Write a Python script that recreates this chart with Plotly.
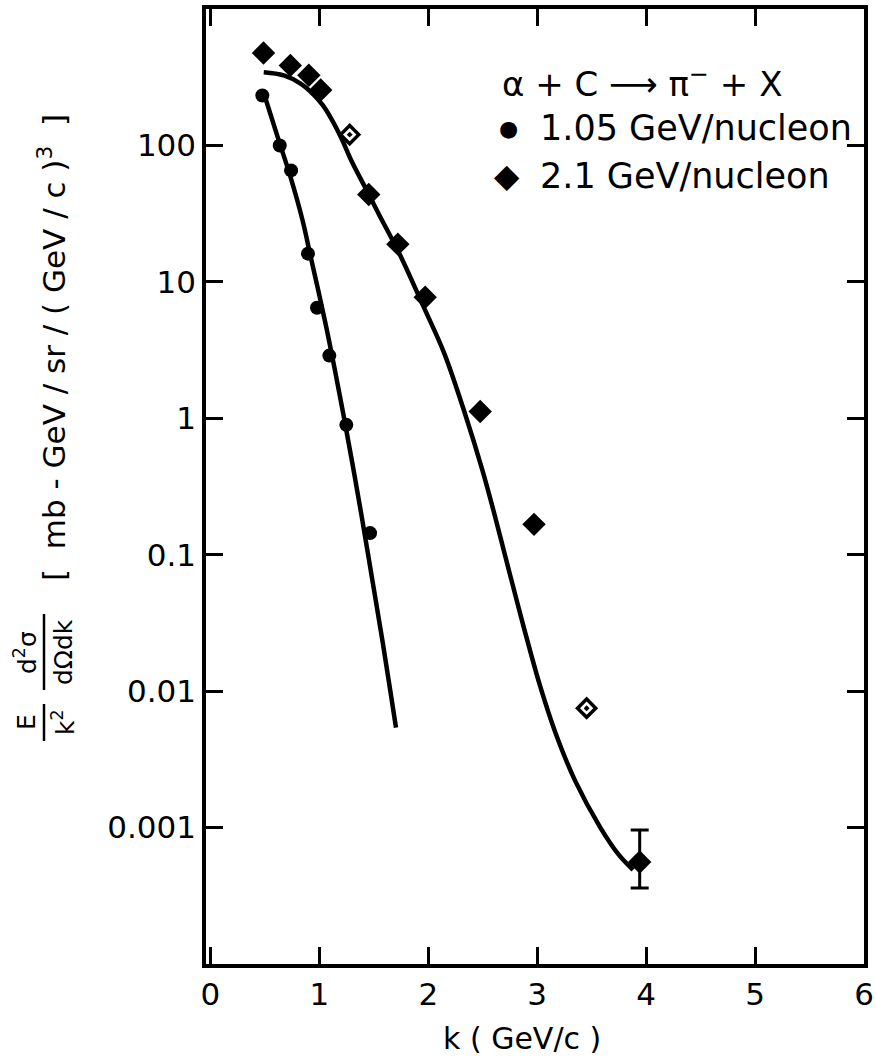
import plotly.graph_objects as go

# ---------------- data ----------------
k_105 = [0.477, 0.637, 0.741, 0.896, 0.979, 1.092, 1.248, 1.466]
y_105 = [232, 100, 65.6, 16.1, 6.46, 2.88, 0.895, 0.144]

# 2.1 GeV/nucleon, solid diamonds
k_21 = [0.488, 0.734, 0.904, 1.013, 1.454, 1.721, 1.972, 2.477, 2.971, 3.941]
y_21 = [476, 386, 327, 255, 43.7, 18.9, 7.72, 1.12, 0.167, 0.00056]
err_up_21 = [0, 0, 0, 0, 0, 0, 0, 0, 0, 0.0004]
err_dn_21 = [0, 0, 0, 0, 0, 0, 0, 0, 0, 0.0002]
# 2.1 GeV/nucleon, points printed hollow in the original
k_21_open = [1.279, 3.454]
y_21_open = [120, 0.0075]

k_fit_105 = [0.493, 0.621, 0.732, 0.845, 0.927, 1.056, 1.139, 1.221, 1.303, 1.387,
             1.504, 1.587, 1.654, 1.704]
y_fit_105 = [238, 113, 60, 28.5, 14.5, 5.0, 2.35, 1.07, 0.47, 0.195,
             0.054, 0.0215, 0.0098, 0.0054]

k_fit_21 = [0.49, 0.674, 0.828, 0.952, 1.03, 1.108, 1.203, 1.297, 1.423, 1.548, 1.737,
            1.959, 2.148, 2.339, 2.497, 2.6, 2.71, 2.82, 2.92, 3.03, 3.17,
            3.35, 3.58, 3.75, 3.88]
y_fit_21 = [344, 326, 284, 234, 198, 158, 113, 76.5, 48.9, 31.2, 16.0,
            6.52, 2.98, 1.07, 0.417, 0.209, 0.0955, 0.0437, 0.0219, 0.0107, 0.0049,
            0.00219, 0.001, 0.00063, 0.00049]

x_ticks = [0, 1, 2, 3, 4, 5, 6]
y_ticks = [0.001, 0.01, 0.1, 1, 10, 100]
y_tick_text = ["0.001", "0.01", "0.1", "1", "10", "100"]

# ---------------- layout geometry ----------------
W, H = 876, 1061
L, R, T, B = 206, 12, 9, 97
PW, PH = W - L - R, H - T - B
FONT = "DejaVu Sans"


def px(xpix):
    return (xpix - L) / PW


def py(ypix):
    return (H - B - ypix) / PH


fig = go.Figure()

line_style = dict(color="black", width=4.5, shape="spline", smoothing=1.0)
fig.add_trace(go.Scatter(x=k_fit_105, y=y_fit_105, mode="lines", line=line_style,
                         hoverinfo="skip", showlegend=False))
fig.add_trace(go.Scatter(x=k_fit_21, y=y_fit_21, mode="lines", line=line_style,
                         hoverinfo="skip", showlegend=False))

fig.add_trace(go.Scatter(x=k_105, y=y_105, mode="markers", opacity=1,
                         marker=dict(symbol="circle", size=14, color="black", opacity=1,
                                     line=dict(width=0)),
                         showlegend=False))

fig.add_trace(go.Scatter(
    x=k_21, y=y_21, mode="markers", opacity=1,
    marker=dict(symbol="diamond", size=18, color="black", opacity=1, line=dict(width=0)),
    error_y=dict(type="data", symmetric=False, array=err_up_21, arrayminus=err_dn_21,
                 color="black", thickness=3, width=9),
    showlegend=False))

fig.add_trace(go.Scatter(
    x=k_21_open, y=y_21_open, mode="markers", opacity=1,
    marker=dict(symbol="diamond-open-dot", size=14, color="black", opacity=1,
                line=dict(color="black", width=3.5)),
    showlegend=False))

axis_common = dict(showline=True, linecolor="black", linewidth=3.5, mirror="ticks",
                   ticks="inside", ticklen=17, tickwidth=3, tickcolor="black",
                   showgrid=False, zeroline=False,
                   tickfont=dict(family=FONT, size=31, color="black"))

fig.update_xaxes(range=[-0.04, 6.0], tickvals=x_ticks,
                 ticktext=[str(v) for v in x_ticks], **axis_common)
fig.update_yaxes(type="log", range=[-4, 3], tickvals=y_ticks, ticktext=y_tick_text,
                 **axis_common)

ann = []
# x title
ann.append(dict(text="k ( GeV/c )", x=px(522), y=py(1038), xref="paper", yref="paper",
                showarrow=False, font=dict(family=FONT, size=30, color="black"),
                xanchor="center", yanchor="middle"))
# y title pieces
yt_font = dict(family=FONT, size=25, color="black")
ann.append(dict(text="E", x=px(26), y=py(722), xref="paper", yref="paper", showarrow=False,
                textangle=-90, font=yt_font, xanchor="center", yanchor="middle"))
ann.append(dict(text="k<sup>2</sup>", x=px(63), y=py(722), xref="paper", yref="paper",
                showarrow=False, textangle=-90, font=yt_font, xanchor="center", yanchor="middle"))
ann.append(dict(text="d<sup>2</sup>σ", x=px(25), y=py(652), xref="paper", yref="paper",
                showarrow=False, textangle=-90, font=yt_font, xanchor="center", yanchor="middle"))
ann.append(dict(text="dΩdk", x=px(63), y=py(652), xref="paper", yref="paper",
                showarrow=False, textangle=-90, font=yt_font, xanchor="center", yanchor="middle"))
ann.append(dict(text="[  mb - GeV / sr / ( GeV / c )<sup>3</sup>  ]", x=px(52), y=py(348),
                xref="paper", yref="paper", showarrow=False, textangle=-90,
                font=dict(family=FONT, size=31, color="black"),
                xanchor="center", yanchor="middle"))
# legend text
lg_font = dict(family=FONT, size=35, color="black")
ann.append(dict(text="α + C ⟶ π<sup>−</sup> + X", x=px(500), y=py(82), xref="paper",
                yref="paper", showarrow=False, font=dict(family=FONT, size=34, color="black"),
                xanchor="left", yanchor="middle"))
ann.append(dict(text="●", x=px(508), y=py(128), xref="paper", yref="paper", showarrow=False,
                font=dict(family=FONT, size=22, color="black"), xanchor="center", yanchor="middle"))
ann.append(dict(text="1.05 GeV/nucleon", x=px(538), y=py(128), xref="paper", yref="paper",
                showarrow=False, font=lg_font, xanchor="left", yanchor="middle"))
ann.append(dict(text="◆", x=px(507), y=py(176), xref="paper", yref="paper", showarrow=False,
                font=dict(family=FONT, size=33, color="black"), xanchor="center", yanchor="middle"))
ann.append(dict(text="2.1 GeV/nucleon", x=px(538), y=py(176), xref="paper", yref="paper",
                showarrow=False, font=lg_font, xanchor="left", yanchor="middle"))

shapes = [
    dict(type="line", xref="paper", yref="paper", x0=px(44), x1=px(44), y0=py(704), y1=py(741),
         line=dict(color="black", width=2.5)),
    dict(type="line", xref="paper", yref="paper", x0=px(44), x1=px(44), y0=py(614), y1=py(690),
         line=dict(color="black", width=2.5)),
]

fig.update_layout(width=W, height=H, margin=dict(l=L, r=R, t=T, b=B, autoexpand=False),
                  paper_bgcolor="white", plot_bgcolor="white", annotations=ann, shapes=shapes,
                  font=dict(family=FONT, color="black"))

fig.write_html("out.html")
